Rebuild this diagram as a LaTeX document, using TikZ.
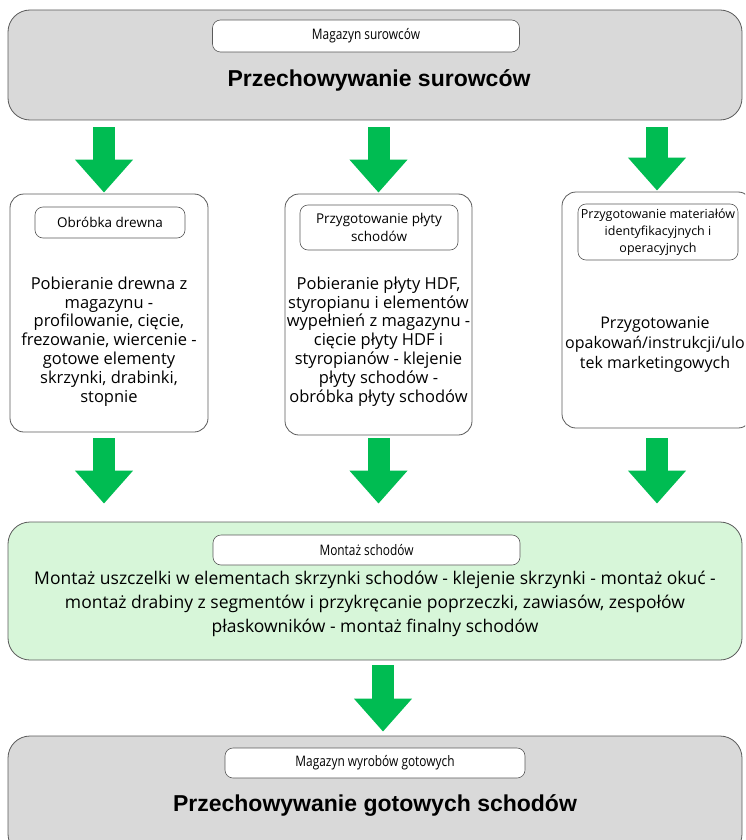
\documentclass[tikz,border=0pt]{standalone}
\usepackage{fontspec}
\setmainfont{Open Sans}
\newfontfamily\titlefont{Liberation Sans}
\newfontfamily\tagfont[FakeStretch=0.82]{Open Sans}
\usepackage{tikz}
\usetikzlibrary{arrows.meta,positioning}
\definecolor{boxgray}{RGB}{217,217,217}
\definecolor{boxgreen}{RGB}{215,246,217}
\definecolor{arrgreen}{RGB}{0,188,82}
\definecolor{edgegray}{RGB}{90,90,90}

\begin{document}
\begin{tikzpicture}[x=1pt,y=-1pt,
  bigbox/.style={draw=edgegray, line width=0.8pt, rounded corners=22pt, minimum width=734pt, inner sep=0pt},
  stepbox/.style={draw=edgegray, line width=0.8pt, rounded corners=14pt, fill=white, inner sep=0pt},
  tagbox/.style={draw=edgegray, line width=0.6pt, rounded corners=8pt, fill=white, inner sep=0pt, align=center},
  bigarrow/.style={arrgreen, line width=22pt, -{Triangle[length=33pt,width=56pt]}}]
\useasboundingbox (0,0) rectangle (745,840);
\clip (0,0) rectangle (745,840);

% raw material store
\node[bigbox, fill=boxgray, minimum height=110pt] (store) at (375,65) {};
\node[tagbox, minimum width=307pt, minimum height=32pt, font=\tagfont\fontsize{14.5}{16}\selectfont] (storetag) at (366,36) {Magazyn surowców};
\node[font=\titlefont\bfseries\fontsize{23}{27}\selectfont] (storetitle) at (379,80) {Przechowywanie surowców};

% three parallel steps
\node[stepbox, minimum width=198pt, minimum height=238pt] (wood) at (109,313) {};
\node[tagbox, minimum width=150pt, minimum height=31pt, font=\fontsize{13.5}{17}\selectfont] (woodtag) at (110,222.5) {Obróbka drewna};
\node[align=center, font=\fontsize{16.5}{18.8}\selectfont] (woodtext) at (109,341.5)
  {Pobieranie drewna z\\ magazynu -\\ profilowanie, cięcie,\\ frezowanie, wiercenie -\\ gotowe elementy\\ skrzynki, drabinki,\\ stopnie};

\node[stepbox, minimum width=187pt, minimum height=241pt] (plate) at (378.5,314.5) {};
\node[tagbox, minimum width=158pt, minimum height=45pt, font=\fontsize{13.5}{18}\selectfont] (platetag) at (379,227.5) {Przygotowanie płyty\\ schodów};
\node[align=center, font=\fontsize{16.5}{18.8}\selectfont] (platetext) at (378.5,341.5)
  {Pobieranie płyty HDF,\\ styropianu i elementów\\ wypełnień z magazynu -\\ cięcie płyty HDF i\\ styropianów - klejenie\\ płyty schodów -\\ obróbka płyty schodów};

\node[stepbox, minimum width=190pt, minimum height=236pt] (pack) at (657,310) {};
\node[tagbox, minimum width=160pt, minimum height=56pt, font=\fontsize{12.5}{17}\selectfont] (packtag) at (658,232) {Przygotowanie materiałów\\ identyfikacyjnych i\\ operacyjnych};
\node[align=center, font=\fontsize{16}{20}\selectfont] (packtext) at (655,345)
  {Przygotowanie\\ opakowań/instrukcji/ulo\\ tek marketingowych};

% assembly
\node[bigbox, fill=boxgreen, minimum height=138pt] (assembly) at (375,591) {};
\node[tagbox, minimum width=307pt, minimum height=30pt, font=\tagfont\fontsize{14.5}{16}\selectfont] (assemblytag) at (366.5,550) {Montaż schodów};
\node[align=center, font=\fontsize{17.5}{24}\selectfont] (assemblytext) at (375,604)
  {Montaż uszczelki w elementach skrzynki schodów - klejenie skrzynki - montaż okuć -\\ montaż drabiny z segmentów i przykręcanie poprzeczki, zawiasów, zespołów\\ płaskowników - montaż finalny schodów};

% finished goods store
\node[bigbox, fill=boxgray, minimum height=120pt] (goods) at (375,796) {};
\node[tagbox, minimum width=300pt, minimum height=30pt, font=\tagfont\fontsize{14.5}{16}\selectfont] (goodstag) at (375,763) {Magazyn wyrobów gotowych};
\node[font=\titlefont\bfseries\fontsize{23}{27}\selectfont] (goodstitle) at (375,805) {Przechowywanie gotowych schodów};

% arrows
\draw[bigarrow] ([xshift=-5pt,yshift=-7pt]store.south -| wood.north) -- ([xshift=-5pt,yshift=1pt]wood.north);
\draw[bigarrow] ([yshift=-7pt]store.south -| plate.north) -- ([yshift=1pt]plate.north);
\draw[bigarrow] ([yshift=-7pt]store.south -| pack.north) -- ([yshift=1pt]pack.north);

\draw[bigarrow] ([xshift=-5pt,yshift=-6pt]wood.south) -- ([xshift=-5pt,yshift=18pt]assembly.north -| wood.south);
\draw[bigarrow] ([yshift=-3pt]plate.south) -- ([yshift=18pt]assembly.north -| plate.south);
\draw[bigarrow] ([yshift=-10pt]pack.south) -- ([yshift=18pt]assembly.north -| pack.south);

\draw[bigarrow] ([xshift=8pt,yshift=-5pt]assembly.south) -- ([xshift=8pt,yshift=4pt]goods.north);
\end{tikzpicture}
\end{document}
